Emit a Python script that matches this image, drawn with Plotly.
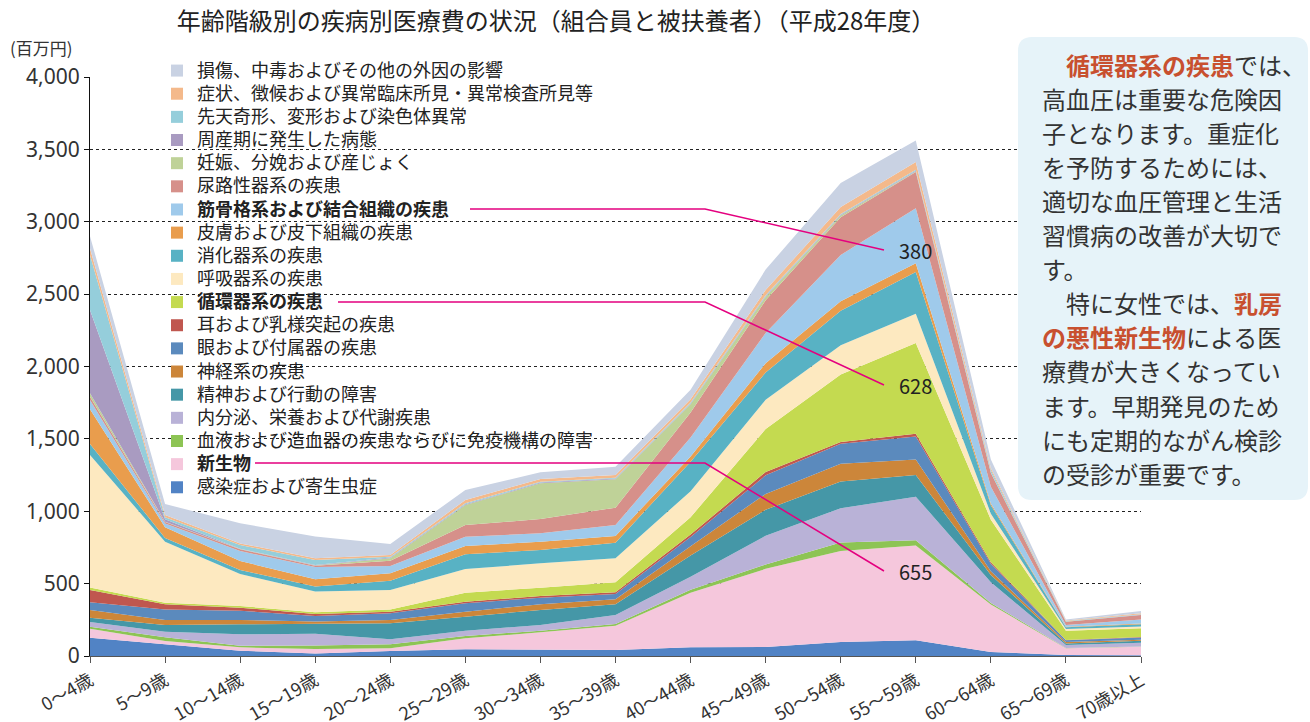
import plotly.graph_objects as go

ages = ["0〜4歳", "5〜9歳", "10〜14歳", "15〜19歳", "20〜24歳", "25〜29歳", "30〜34歳",
        "35〜39歳", "40〜44歳", "45〜49歳", "50〜54歳", "55〜59歳", "60〜64歳", "65〜69歳", "70歳以上"]

# 医療費（百万円） bottom -> top of the stack
infection   = [126, 81, 37, 18, 35, 46, 46, 41, 60, 62, 97, 109, 28, 7, 5]
neoplasm    = [63, 23, 23, 30, 18, 76, 118, 168, 377, 540, 628, 655, 328, 46, 59]
blood       = [13, 25, 11, 25, 28, 16, 11, 12, 20, 30, 59, 36, 10, 3, 2]
endocrine   = [33, 39, 79, 80, 34, 37, 39, 62, 90, 198, 237, 301, 143, 20, 26]
mental      = [30, 46, 69, 69, 111, 97, 104, 74, 147, 180, 185, 149, 51, 11, 14]
nervous     = [53, 35, 30, 16, 23, 34, 39, 35, 65, 110, 123, 107, 26, 10, 7]
eye         = [53, 73, 64, 39, 46, 58, 46, 36, 63, 128, 138, 159, 51, 11, 14]
ear         = [85, 35, 21, 14, 11, 11, 12, 12, 17, 24, 11, 19, 10, 3, 4]
circulatory = [18, 11, 11, 12, 16, 62, 57, 69, 120, 296, 467, 628, 295, 64, 60]
respiratory = [915, 422, 221, 142, 134, 164, 168, 166, 180, 202, 202, 201, 41, 12, 12]
digestive   = [76, 25, 28, 35, 64, 102, 92, 108, 203, 189, 239, 289, 59, 11, 16]
skin        = [239, 75, 62, 51, 51, 57, 58, 46, 37, 64, 64, 60, 11, 4, 5]
musculo     = [64, 25, 69, 83, 51, 64, 58, 76, 130, 209, 320, 380, 117, 12, 29]
urinary     = [23, 11, 12, 9, 36, 81, 98, 120, 173, 225, 261, 250, 94, 23, 30]
pregnancy   = [24, 2, 2, 3, 17, 138, 247, 196, 58, 24, 12, 4, 2, 1, 1]
perinatal   = [575, 16, 2, 2, 5, 5, 5, 5, 5, 5, 5, 5, 2, 1, 1]
congenital  = [380, 14, 26, 36, 6, 7, 6, 6, 6, 7, 6, 8, 17, 2, 3]
symptoms    = [46, 16, 11, 12, 12, 23, 19, 18, 23, 35, 48, 52, 13, 4, 7]
injury      = [84, 76, 139, 149, 76, 69, 46, 58, 65, 142, 166, 149, 59, 8, 16]

series = [
    ("感染症および寄生虫症", infection, "#5183c5", False),
    ("新生物", neoplasm, "#f5c7dc", True),
    ("血液および造血器の疾患ならびに免疫機構の障害", blood, "#8dc454", False),
    ("内分泌、栄養および代謝疾患", endocrine, "#b9b2d7", False),
    ("精神および行動の障害", mental, "#4597a7", False),
    ("神経系の疾患", nervous, "#cc863a", False),
    ("眼および付属器の疾患", eye, "#5b8abd", False),
    ("耳および乳様突起の疾患", ear, "#c0574f", False),
    ("循環器系の疾患", circulatory, "#c4da50", True),
    ("呼吸器系の疾患", respiratory, "#fde9c0", False),
    ("消化器系の疾患", digestive, "#58b2c4", False),
    ("皮膚および皮下組織の疾患", skin, "#e99d4d", False),
    ("筋骨格系および結合組織の疾患", musculo, "#9fcaeb", True),
    ("尿路性器系の疾患", urinary, "#d6908a", False),
    ("妊娠、分娩および産じょく", pregnancy, "#bfd298", False),
    ("周産期に発生した病態", perinatal, "#a99bc1", False),
    ("先天奇形、変形および染色体異常", congenital, "#95cedb", False),
    ("症状、徴候および異常臨床所見・異常検査所見等", symptoms, "#f4b98b", False),
    ("損傷、中毒およびその他の外因の影響", injury, "#c9d2e3", False),
]

FONT = "Noto Sans CJK JP"
W, H = 1310, 722
L, R, T, B = 90, 1141, 77, 656   # plot area in pixels


def px(xp):
    return (xp - L) / (R - L)


def py(yp):
    return (B - yp) / (B - T)


fig = go.Figure()
for name, vals, color, bold in series:
    fig.add_trace(go.Scatter(
        x=ages, y=vals, name=name, stackgroup="all", mode="lines",
        line=dict(width=0, color=color), fillcolor=color,
        showlegend=False, hoverinfo="x+y+name"))
# legend entries (square swatches)
for i, (name, vals, color, bold) in enumerate(series):
    label = f"<b>{name}</b>" if bold else name
    fig.add_trace(go.Scatter(
        x=[None], y=[None], mode="markers",
        name=f"<span style='font-size:18px'>{label}</span>",
        marker=dict(symbol="square", size=12, color=color),
        legendrank=100 - i, showlegend=True, hoverinfo="skip"))

shapes = []
annotations = []

# leader lines + values at 55〜59歳
idx = ages.index("55〜59歳")
leaders = [
    (470, 209, 250, musculo[idx]),
    (338, 302, 385, circulatory[idx]),
    (255, 463, 571, neoplasm[idx]),
]
for x_start, y_start, y_end, val in leaders:
    shapes.append(dict(
        type="path", xref="paper", yref="paper",
        path=f"M{px(x_start)},{py(y_start)} L{px(705)},{py(y_start)} L{px(884)},{py(y_end)}",
        line=dict(color="#e4007f", width=1.5), layer="above"))
    annotations.append(dict(
        x=idx, xref="x", y=py(y_end), yref="paper", text=str(val),
        showarrow=False, xanchor="center", yanchor="middle",
        font=dict(family=FONT, size=20, color="#222")))

# text box
shapes.append(dict(
    type="path", xref="paper", yref="paper",
    xsizemode="pixel", ysizemode="pixel",
    xanchor=px(1018), yanchor=py(37),
    path="M14,0 L276,0 Q290,0 290,-14 L290,-449 Q290,-463 276,-463 L14,-463 Q0,-463 0,-449 L0,-14 Q0,0 14,0 Z",
    fillcolor="#e6f3f9", line=dict(width=0), layer="above"))

red = "#c8502f"
box_lines = [
    (True, f"<b><span style='color:{red}'>循環器系の疾患</span></b>では、"),
    (False, "高血圧は重要な危険因"),
    (False, "子となります。重症化"),
    (False, "を予防するためには、"),
    (False, "適切な血圧管理と生活"),
    (False, "習慣病の改善が大切で"),
    (False, "す。"),
    (True, f"特に女性では、<b><span style='color:{red}'>乳房</span></b>"),
    (False, f"<b><span style='color:{red}'>の悪性新生物</span></b>による医"),
    (False, "療費が大きくなってい"),
    (False, "ます。早期発見のため"),
    (False, "にも定期的ながん検診"),
    (False, "の受診が重要です。"),
]
for k, (indent, txt) in enumerate(box_lines):
    annotations.append(dict(
        x=px(1064 if indent else 1040), xref="paper",
        y=py(64 + k * 34.1), yref="paper",
        text=txt, showarrow=False, xanchor="left", yanchor="middle",
        font=dict(family=FONT, size=24, color="#333")))

annotations.append(dict(
    x=px(8), xref="paper", y=py(47), yref="paper", text="(百万円)",
    showarrow=False, xanchor="left", yanchor="middle",
    font=dict(family=FONT, size=17, color="#333")))

fig.update_layout(
    width=W, height=H, autosize=False,
    margin=dict(l=L, r=W - R, t=T, b=H - B, pad=0, autoexpand=False),
    paper_bgcolor="white", plot_bgcolor="white",
    font=dict(family=FONT, color="#333"),
    title=dict(text="年齢階級別の疾病別医療費の状況（組合員と被扶養者）（平成28年度）",
               x=556 / W, xanchor="center", y=1 - 22 / H, yanchor="middle",
               font=dict(family=FONT, size=24, color="#222")),
    showlegend=True,
    legend=dict(x=px(157), xref="paper", y=1 - 54 / H, yref="container",
                xanchor="left", yanchor="top",
                bgcolor="rgba(0,0,0,0)", traceorder="normal",
                font=dict(family=FONT, size=15.5, color="#222"),
                itemclick=False, itemdoubleclick=False),
    shapes=shapes,
    annotations=annotations,
    xaxis=dict(type="category", range=[0, len(ages) - 1], showgrid=False,
               showline=True, linecolor="#555", linewidth=1,
               ticks="outside", ticklen=6, tickcolor="#555",
               tickangle=-30, tickfont=dict(family=FONT, size=18, color="#333"),
               zeroline=False, automargin=False),
    yaxis=dict(range=[0, 4000], tickvals=list(range(0, 4001, 500)), tickformat=",d",
               showgrid=True, gridcolor="#222", griddash="dot", gridwidth=1,
               showline=True, linecolor="#111", linewidth=1.2,
               ticks="outside", ticklen=5, tickcolor="#111",
               tickfont=dict(family="Noto Sans", size=21, color="#333"),
               zeroline=False, automargin=False),
)

try:
    fig.update_layout(legend_maxheight=700)
except Exception:
    fig.update_layout(legend=dict(y=1.0, yref="paper"))

fig.write_html("out.html", config={"displayModeBar": False},
               post_script="document.body.style.margin='0px';")
